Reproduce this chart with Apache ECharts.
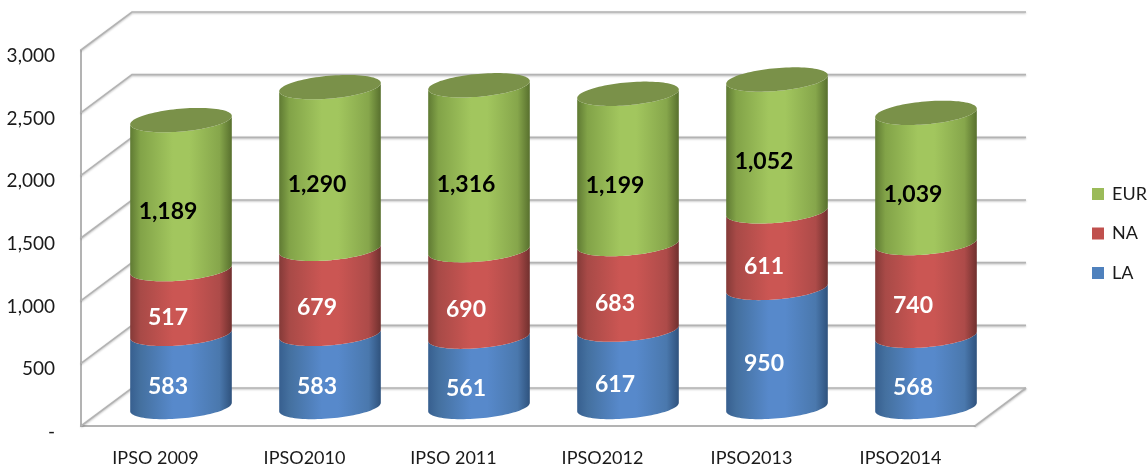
<!DOCTYPE html>
<html><head><meta charset="utf-8">
<style>html,body{margin:0;padding:0;background:#fff}#c{width:1148px;height:468px}</style>
<script src="https://cdn.jsdelivr.net/npm/echarts@6/dist/echarts.min.js"></script>
</head><body><div id="c"></div>
<script>
const categories = ['IPSO 2009','IPSO2010','IPSO 2011','IPSO2012','IPSO2013','IPSO2014'];
const LA  = [583,583,561,617,950,568];
const NA  = [517,679,690,683,611,740];
const EUR = [1189,1290,1316,1199,1052,1039];
const ticks = [0,500,1000,1500,2000,2500,3000];

const FONT = 'Lato, Carlito, "Open Sans", sans-serif';
const DEPTH = [51,-38];
const RX = 51, RY = 11.4, TILT = -5*Math.PI/180;

function fmt(v){ return v.toString().replace(/\B(?=(\d{3})+$)/g, ','); }
function ell(cx,cy,t){
  const x=RX*Math.cos(t), y=RY*Math.sin(t);
  return [cx+x*Math.cos(TILT)-y*Math.sin(TILT), cy+x*Math.sin(TILT)+y*Math.cos(TILT)];
}
function arc(cx,cy,from,to,n){
  const out=[]; for(let i=0;i<=n;i++){ out.push(ell(cx,cy,from+(to-from)*i/n)); } return out;
}
function grad(stops){
  return new echarts.graphic.LinearGradient(0,0,1,0,stops.map((c,i)=>({offset:c[0],color:c[1]})));
}
const looks = {
  LA:{edgeL:'#375f8f',mid1:'#44709f',light:'#5789cb',mid2:'#4a78ad',edgeR:'#2f527d',top:'#3f6a9c',text:'#ffffff'},
  NA:{edgeL:'#843a38',mid1:'#a84a47',light:'#cb5653',mid2:'#ad4b49',edgeR:'#70302e',top:'#a04644',text:'#ffffff'},
  EUR:{edgeL:'#5f7a33',mid1:'#82a348',light:'#a2c65e',mid2:'#86a64b',edgeR:'#58702e',top:'#7a9149',text:'#000000'}
};
function cylSeries(name,values,below,color){
  const L=looks[name];
  return {
    name, type:'custom', coordinateSystem:'cartesian2d', clip:false, z:3,
    itemStyle:{color},
    encode:{x:0,y:[1,2]},
    data:values.map((v,i)=>[i,below[i],below[i]+v,v]),
    renderItem(params,api){
      const i=api.value(0),b=api.value(1),t=api.value(2),v=api.value(3);
      const pb=api.coord([i,b]), pt=api.coord([i,t]), pm=api.coord([i,(b+t)/2]);
      const cx=pb[0]+DEPTH[0]/2, by=pb[1]+DEPTH[1]/2, ty=pt[1]+DEPTH[1]/2;
      const fill=grad([[0,L.edgeL],[0.1,L.mid1],[0.42,L.light],[0.58,L.light],[0.88,L.mid2],[1,L.edgeR]]);
      const side=arc(cx,by,Math.PI,0,48).concat(arc(cx,ty,0,Math.PI,48));
      const children=[{type:'polygon',shape:{points:side},style:{fill}}];
      if(name==='EUR'){
        children.push({type:'polygon',shape:{points:arc(cx,ty,0,2*Math.PI,96)},style:{fill:L.top}});
      }
      children.push({type:'text',z2:10,style:{text:fmt(v),x:pm[0]+12.5,y:pm[1]-2.5,align:'center',verticalAlign:'middle',
        font:'bold 23px '+FONT,fill:L.text}});
      return {type:'group',children};
    }
  };
}
const zeros=LA.map(()=>0);
const stack1=LA.slice();
const stack2=LA.map((v,i)=>v+NA[i]);
const GRID='#b3b3b3';
const lineStyle={stroke:GRID,lineWidth:1.6,fill:null,shadowBlur:2,shadowColor:'rgba(0,0,0,0.25)',shadowOffsetY:1};
const chart=echarts.init(document.getElementById('c'),null,{renderer:'canvas'});
chart.setOption({
  animation:false,
  backgroundColor:'#fff',
  grid:{left:81,top:50,width:894,height:376,containLabel:false},
  legend:{
    orient:'vertical',left:1092,top:185,padding:0,icon:'rect',itemWidth:12,itemHeight:12,itemGap:21.5,
    data:['EUR','NA','LA'],selectedMode:false,
    textStyle:{fontFamily:FONT,fontSize:18,color:'#1a1a1a',padding:[0,0,0,3]}
  },
  xAxis:{type:'category',data:categories,axisTick:{show:false},
    axisLine:{show:true,lineStyle:{color:GRID,width:2}},splitLine:{show:false},
    axisLabel:{fontFamily:FONT,fontSize:18,color:'#1a1a1a',margin:23}},
  yAxis:{type:'value',min:0,max:3000,interval:500,axisTick:{show:false},
    axisLine:{show:true,lineStyle:{color:GRID,width:2}},splitLine:{show:false},
    axisLabel:{fontFamily:FONT,fontSize:19,color:'#1a1a1a',margin:26,verticalAlign:'top',lineHeight:12,
      formatter:v=>v===0?'-':fmt(v)}},
  series:[
    {name:'walls',type:'custom',coordinateSystem:'cartesian2d',clip:false,z:1,silent:true,
     encode:{y:1},
     data:ticks.map(v=>[0,v]),
     renderItem(params,api){
       const v=api.value(1);
       const a=api.coord([0,v]);
       const size=api.size([1,0]);
       const left=a[0]-size[0]/2;
       const right=left+size[0]*categories.length;
       const kids=[{type:'polyline',shape:{points:[[left,a[1]],[left+DEPTH[0],a[1]+DEPTH[1]],[right+DEPTH[0],a[1]+DEPTH[1]]]},style:lineStyle}];
       if(v===0){
         kids.push({type:'polyline',shape:{points:[[right,a[1]],[right+DEPTH[0],a[1]+DEPTH[1]]]},style:lineStyle});
       }
       return {type:'group',children:kids};
     }},
    cylSeries('LA',LA,zeros,'#4f81bd'),
    cylSeries('NA',NA,stack1,'#c0504d'),
    cylSeries('EUR',EUR,stack2,'#9bbb59')
  ]
});
</script></body></html>
